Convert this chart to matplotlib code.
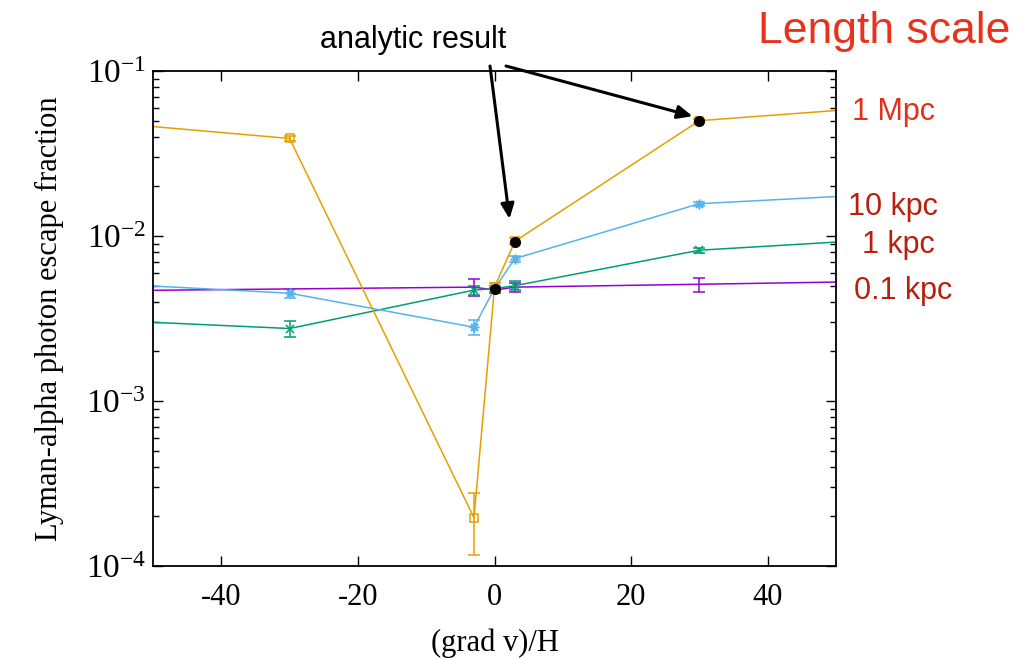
import matplotlib
matplotlib.use('Agg')
from matplotlib import pyplot as plt
from matplotlib.ticker import FixedLocator, LogLocator, NullFormatter

# 数据：速度梯度 (grad v)/H
grad = [-300, -30, -3, 0, 3, 30, 300]
grad_01 = [-300, -3, 0, 3, 30, 300]

f_1mpc = [0.37, 0.039, 1.96e-4, 4.9e-3, 9.3e-3, 0.050, 0.34]
e_1mpc = [0.0, 0.0012, 0.8e-4, 0.0003, 0.0004, 0.0015, 0.0]
f_10kpc = [0.0175, 4.5e-3, 2.8e-3, 4.8e-3, 7.3e-3, 0.0157, 0.060]
e_10kpc = [0.0, 0.0003, 0.0003, 0.0002, 0.0003, 0.0004, 0.0]
f_1kpc = [8.8e-3, 2.75e-3, 4.7e-3, 4.8e-3, 5.0e-3, 8.2e-3, 0.038]
e_1kpc = [0.0, 0.0003, 0.0003, 0.0002, 0.0003, 0.0003, 0.0]
f_01kpc = [3.7e-3, 4.9e-3, 4.7e-3, 4.9e-3, 5.1e-3, 7.7e-3]
e_01kpc = [0.0, 0.0006, 0.0002, 0.0003, 0.0005, 0.0]

# 解析解
grad_ana = [0, 3, 30]
f_ana = [4.75e-3, 9.2e-3, 0.050]

labels = ['1 Mpc', '10 kpc', '1 kpc', '0.1 kpc']
xticks = [-40, -20, 0, 20, 40]
yticks = [1e-4, 1e-3, 1e-2, 1e-1]
ytick_labels = [r'$\mathregular{10^{-4}}$', r'$\mathregular{10^{-3}}$',
                r'$\mathregular{10^{-2}}$', r'$\mathregular{10^{-1}}$']

plt.rcParams['mathtext.fontset'] = 'custom'
plt.rcParams['mathtext.rm'] = 'Liberation Serif'
plt.rcParams['font.family'] = 'Liberation Serif'

fig = plt.figure(figsize=(10.32, 6.59), dpi=100)
ax = fig.add_axes([153/1032, 1-566/659, (836-153)/1032, (566-71)/659])

# 四条曲线 (gnuplot 默认配色)
series = [
    (grad_01, f_01kpc, e_01kpc, '#9400d3', 'None', 5),
    (grad, f_1kpc, e_1kpc, '#009e73', 'x', 6),
    (grad, f_10kpc, e_10kpc, '#56b4e9', (8, 2, 0), 7),
    (grad, f_1mpc, e_1mpc, '#e69f00', 's', 6),
]
for x, y, e, c, m, ms in series:
    ax.errorbar(x, y, yerr=e, color=c, lw=1.1, marker=m, markersize=ms,
                mfc='none', mec=c, mew=1.1, elinewidth=1.1, capsize=4, capthick=1.1)

ax.plot(grad_ana, f_ana, 'o', color='black', markersize=7, zorder=5)

ax.set_yscale('log')
ax.set_xlim(-50, 50)
ax.set_ylim(1e-4, 1e-1)
ax.set_xticks(xticks)
ax.set_xticklabels([str(t) for t in xticks])
ax.xaxis.set_minor_locator(FixedLocator([]))
ax.set_yticks(yticks)
ax.set_yticklabels(ytick_labels)
ax.yaxis.set_minor_locator(LogLocator(base=10, subs=range(2, 10)))
ax.yaxis.set_minor_formatter(NullFormatter())
ax.tick_params(which='both', direction='in', top=True, right=True)
ax.tick_params(which='major', length=7, width=1)
ax.tick_params(which='minor', length=4, width=1)
ax.tick_params(axis='x', pad=12, labelsize=22)
ax.tick_params(axis='y', pad=5, labelsize=24)
for s in ax.spines.values():
    s.set_linewidth(1.3)

ax.set_xlabel('(grad v)/H', fontsize=22, labelpad=12)
ax.set_ylabel('Lyman-alpha photon escape fraction', fontsize=22, labelpad=16)

# 注释箭头
fig.text(413/1032, 1-40/659, 'analytic result', fontsize=22, family='Liberation Sans',
         ha='center', va='center')
arrow = dict(arrowstyle='-|>,head_length=0.9,head_width=0.4', color='black', lw=2.2,
             shrinkA=0, shrinkB=0)
ax.annotate('', xy=(2.2, 0.0127), xycoords='data',
            xytext=(490, 659-66), textcoords='figure pixels', arrowprops=arrow)
ax.annotate('', xy=(29.0, 0.0532), xycoords='data',
            xytext=(506, 659-66), textcoords='figure pixels', arrowprops=arrow)

# 长度尺度标签
fig.text(884/1032, 1-31/659, 'Length scale', fontsize=32, family='Liberation Sans',
         color='#e8321e', ha='center', va='center')
label_pos = [(893, 112), (893, 207), (898, 245), (903, 291)]
label_col = ['#e2301a', '#b8200e', '#b8200e', '#b8200e']
for lab, (px, py), c in zip(labels, label_pos, label_col):
    fig.text(px/1032, 1-py/659, lab, fontsize=22, family='Liberation Sans',
             color=c, ha='center', va='center')

fig.savefig('out.png', dpi=100)
